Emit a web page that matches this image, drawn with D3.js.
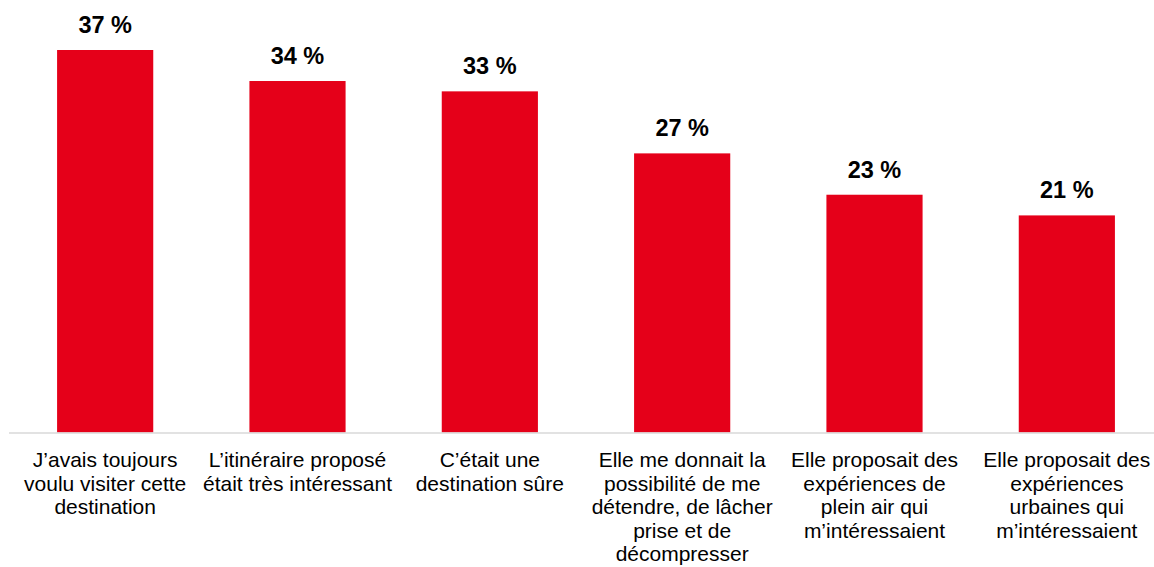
<!DOCTYPE html>
<html><head><meta charset="utf-8">
<script src="https://cdn.jsdelivr.net/npm/d3@7"></script>
<style>body{margin:0;background:#fff}svg{display:block}</style>
</head><body>
<svg id="c" width="1154" height="567"></svg>
<script>
const categories = [
  ["J’avais toujours", "voulu visiter cette", "destination"],
  ["L’itinéraire proposé", "était très intéressant"],
  ["C’était une", "destination sûre"],
  ["Elle me donnait la", "possibilité de me", "détendre, de lâcher", "prise et de", "décompresser"],
  ["Elle proposait des", "expériences de", "plein air qui", "m’intéressaient"],
  ["Elle proposait des", "expériences", "urbaines qui", "m’intéressaient"]
];
const values = [37, 34, 33, 27, 23, 21];
const valueLabels = ["37 %", "34 %", "33 %", "27 %", "23 %", "21 %"];

const svg = d3.select("#c");
const ids = d3.range(values.length);
const x = d3.scaleBand().domain(ids).range([9, 1163]).paddingInner(0.5).paddingOuter(0.25);
const y = d3.scaleLinear().domain([0, 37]).range([432.5, 50]);

svg.selectAll("rect.bar").data(ids).join("rect")
  .attr("class", "bar")
  .attr("x", d => x(d)).attr("width", x.bandwidth())
  .attr("y", d => y(values[d])).attr("height", d => y(0) - y(values[d]))
  .attr("fill", "#e50019");

svg.append("line").attr("x1", 9).attr("x2", 1154).attr("y1", 433).attr("y2", 433)
  .attr("stroke", "#d9d9d9").attr("stroke-width", 1.5);

svg.selectAll("text.val").data(ids).join("text")
  .attr("class", "val")
  .attr("x", d => x(d) + x.bandwidth() / 2)
  .attr("y", d => y(values[d]) - 17)
  .attr("text-anchor", "middle")
  .attr("font-family", "Liberation Sans, Arial, sans-serif")
  .attr("font-weight", "bold").attr("font-size", 23.5).attr("fill", "#000")
  .text(d => valueLabels[d]);

const lab = svg.selectAll("text.cat").data(ids).join("text")
  .attr("class", "cat")
  .attr("text-anchor", "middle")
  .attr("font-family", "Liberation Sans, Arial, sans-serif")
  .attr("font-size", 21).attr("fill", "#000");
lab.each(function(d) {
  const t = d3.select(this);
  categories[d].forEach((line, i) => {
    t.append("tspan").attr("x", x(d) + x.bandwidth() / 2).attr("y", 467 + i * 23.5).text(line);
  });
});
</script>
</body></html>
